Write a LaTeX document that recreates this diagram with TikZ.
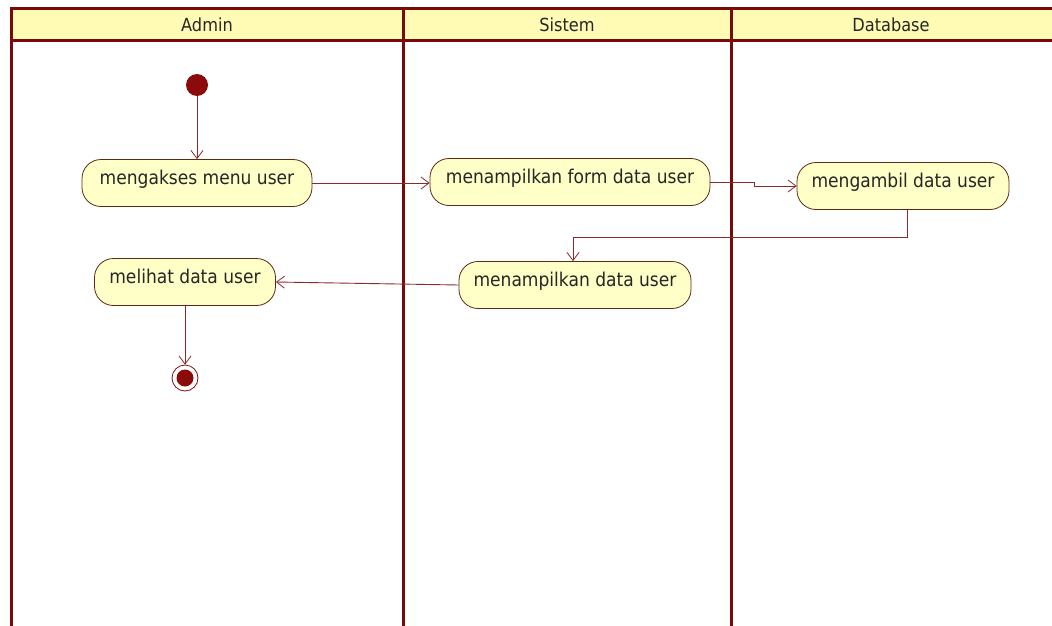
\documentclass[tikz,border=0pt]{standalone}
\usepackage{fontspec}
\setmainfont{DejaVu Sans Condensed}
\usetikzlibrary{arrows.meta,calc}
\definecolor{lane}{HTML}{7A0A0A}
\definecolor{flow}{HTML}{8A2A2A}
\definecolor{actfill}{HTML}{FFFFC8}
\definecolor{actline}{HTML}{5A2A14}
\definecolor{headfill}{HTML}{FFFAB4}
\definecolor{dot}{HTML}{8B0A0A}
\tikzset{
  lanes/.style={draw=lane, line width=3pt},
  activity/.style={rectangle, rounded corners=19pt, draw=actline, fill=actfill, line width=0.8pt,
    minimum height=47pt, inner xsep=6pt, text height=14pt, text depth=11pt,
    font=\fontsize{19}{22}\selectfont, text=black!85},
  flowline/.style={draw=flow, line width=0.9pt, -{Straight Barb[length=8pt,width=12pt,line width=0.8pt]}},
  header/.style={font=\fontsize{18}{21}\selectfont, text=black!85},
}
\begin{document}
\begin{tikzpicture}[x=1pt,y=-1pt]
  \useasboundingbox (0,0) rectangle (1052,626);
  % swimlane header band
  \fill[headfill] (11,9) rectangle (1052,41);
  \draw[lanes] (1052,9) -- (11,9) -- (11,626);
  \draw[lanes] (11,41) -- (1052,41);
  \draw[lanes] (403,9) -- (403,626);
  \draw[lanes] (731,9) -- (731,626);
  \node[header] (hAdmin) at (207,25) {Admin};
  \node[header] (hSistem) at (567,25) {Sistem};
  \node[header] (hDb) at (891,25) {Database};

  % initial and final states
  \node[circle, fill=dot, minimum size=22pt, inner sep=0pt] (start) at (197,85) {};
  \node[circle, draw=dot, line width=0.8pt, fill=white, minimum size=26pt, inner sep=0pt] (stop) at (185,378) {};
  \node[circle, fill=dot, minimum size=17pt, inner sep=0pt] (stopdot) at (185,378) {};

  % activities
  \node[activity, minimum width=230pt] (akses) at (197,183) {mengakses menu user};
  \node[activity, minimum width=280pt] (form) at (570,182) {menampilkan form data user};
  \node[activity, minimum width=212pt] (ambil) at (903,186) {mengambil data user};
  \node[activity, minimum width=232pt] (tampil) at (575,285) {menampilkan data user};
  \node[activity, minimum width=181pt] (lihat) at (185,282) {melihat data user};

  % control flows
  \draw[flowline] (start) -- (akses.north -| start);
  \draw[flowline] (akses.east) -- (form.west |- akses.east);
  \coordinate (jog) at ($(form.east)+(44,0)$);
  \draw[flowline] (form.east) -- (jog) |- (ambil.west);
  \coordinate (down) at (907,237);
  \draw[flowline] (ambil.south -| down) -- (down) -- (573,237) -- (tampil.north -| 573,0);
  \draw[flowline] (tampil.west) -- (lihat.east);
  \draw[flowline] (lihat.south) -- (stop.north);
\end{tikzpicture}
\end{document}
